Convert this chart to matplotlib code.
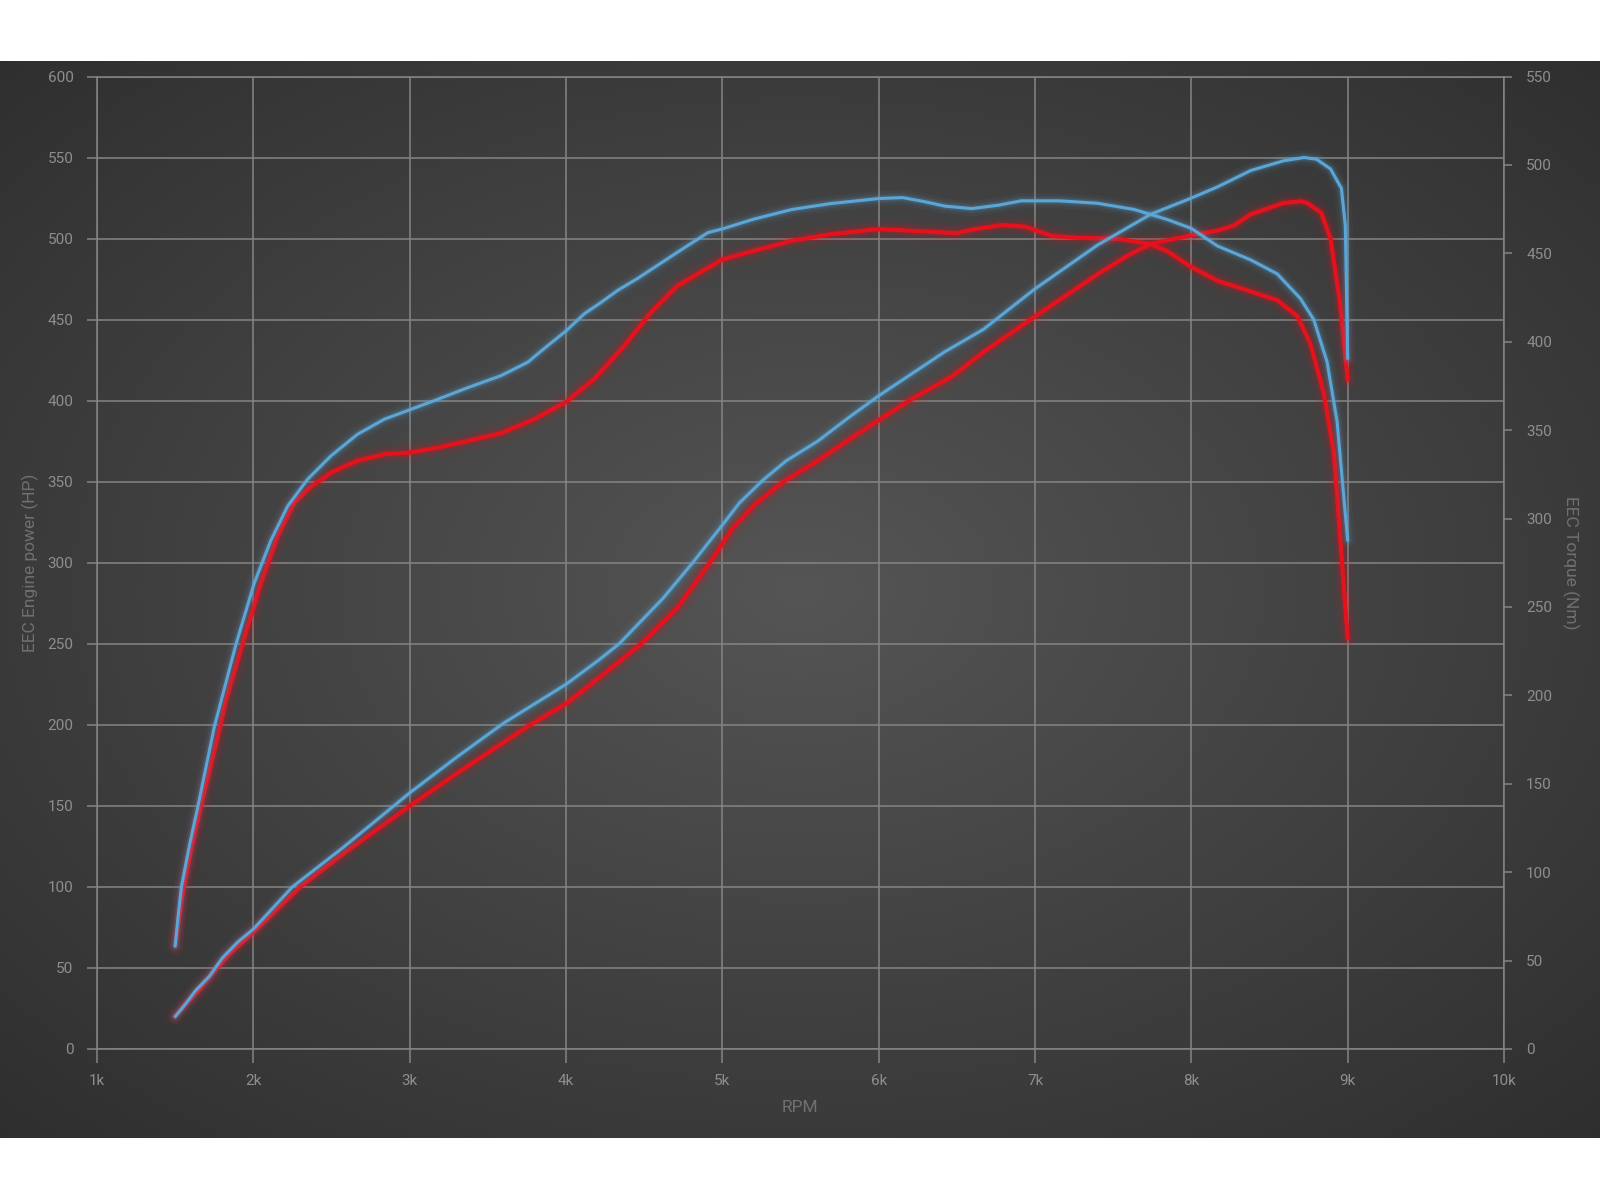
# dyno chart: power (left axis) and torque (right axis) vs RPM
import matplotlib.pyplot as plt
import numpy as np
from matplotlib.ticker import FuncFormatter

plt.rcParams['font.family'] = ['Roboto', 'DejaVu Sans']

# blue run - power (HP)
blue_power_rpm = [1500, 1560, 1630, 1720, 1800, 1900, 2000, 2250, 2570, 3000, 3300, 3600, 4000,
                  4210, 4340, 4530, 4620, 4810, 4990, 5110, 5260, 5410, 5610, 5800, 6000, 6420,
                  6670, 7000, 7400, 7740, 8000, 8170, 8380, 8590, 8720, 8800, 8890, 8960, 8985, 9000]
blue_power_hp = [20, 27, 36, 45, 56, 66, 74, 100, 124, 158, 180, 201, 225,
                 240, 250, 269, 278, 300, 322, 337, 351, 363, 375, 389, 403, 430,
                 444, 469, 496, 515, 525, 532, 542, 548, 550, 549, 543, 531, 508, 426]

# red run - power (HP)
red_power_rpm = [1500, 1560, 1640, 1750, 1850, 2000, 2300, 2570, 3000, 3300, 3770, 4000, 4250,
                 4480, 4710, 4920, 5070, 5220, 5390, 5610, 5840, 6000, 6210, 6470, 6670, 7000,
                 7400, 7600, 7750, 8000, 8170, 8270, 8380, 8590, 8700, 8740, 8830, 8890, 8950, 9000]
red_power_hp = [20, 27, 35, 48, 59, 72, 100, 120, 150, 170, 200, 213, 232,
                250, 272, 300, 322, 337, 350, 363, 378, 388, 401, 415, 430, 452,
                478, 490, 497, 502, 505, 508, 515, 522, 523, 522, 516, 500, 461, 413]

# blue run - torque (Nm)
blue_torque_rpm = [1500, 1520, 1540, 1590, 1646, 1751, 1890, 2006, 2113, 2220, 2347, 2497, 2667,
                   2838, 3000, 3158, 3371, 3584, 3755, 3883, 4000, 4117, 4222, 4330, 4467, 4544,
                   4711, 4907, 5000, 5200, 5445, 5690, 6000, 6154, 6300, 6423, 6594, 6765, 6912,
                   7156, 7401, 7634, 7847, 8000, 8166, 8379, 8549, 8698, 8783, 8868, 8932, 9000]
blue_torque_nm = [58.2, 76.0, 91.7, 114.6, 137.5, 182.4, 229.2, 263.5, 287.8, 307.1, 322.2, 335.5, 347.7,
                  356.2, 361.5, 366.7, 374.0, 380.8, 388.4, 397.8, 406.1, 415.8, 422.1, 429.0, 436.3, 440.8,
                  450.5, 461.7, 463.8, 469.3, 474.8, 478.1, 481.0, 481.5, 479.1, 476.7, 475.3, 477.2, 479.7,
                  479.7, 478.3, 474.8, 469.1, 464.1, 454.2, 446.3, 438.4, 424.4, 412.5, 388.7, 355.1, 287.7]

# red run - torque (Nm)
red_torque_rpm = [1500, 1550, 1600, 1666, 1788, 1825, 1932, 2049, 2156, 2262, 2369, 2497, 2667,
                  2838, 3000, 3179, 3371, 3584, 3797, 4000, 4181, 4373, 4544, 4711, 5000, 5200,
                  5445, 5690, 6000, 6178, 6496, 6619, 6790, 6936, 7108, 7279, 7523, 7740, 7841,
                  8000, 8166, 8379, 8549, 8677, 8762, 8847, 8911, 9000]
red_torque_nm = [58.2, 88.9, 111.8, 137.5, 182.4, 197.1, 229.2, 263.5, 290.0, 308.9, 318.1, 326.0, 332.8,
                 336.4, 337.3, 340.1, 343.9, 348.3, 356.2, 366.0, 379.0, 397.8, 416.7, 431.6, 446.6, 451.4,
                 457.1, 460.8, 463.7, 462.9, 461.4, 463.7, 466.0, 465.1, 459.8, 458.7, 458.3, 455.2, 451.4,
                 442.3, 434.5, 428.5, 423.5, 414.6, 398.8, 371.0, 337.3, 232.2]

x_ticks = list(range(1000, 10001, 1000))
hp_ticks = list(range(0, 601, 50))
nm_ticks = list(range(0, 551, 50))

grid_c = '#858585'
tick_c = '#8e8e8e'
label_c = '#707070'
blue = '#5ba6d6'
red = '#e3121c'

fig = plt.figure(figsize=(16, 12), dpi=100)
fig.patch.set_facecolor('white')

# dark band with radial gradient (ordered dither to hide banding)
bg = fig.add_axes([0, 62 / 1200, 1, 1077 / 1200])
yy, xx = np.mgrid[0:1077, 0:1600]
r = np.sqrt(((xx - 800) / 800.0) ** 2 + ((yy - 529) / 540.0) ** 2)
bayer = np.array([[0, 8, 2, 10], [12, 4, 14, 6], [3, 11, 1, 9], [15, 7, 13, 5]]) / 16.0 - 0.47
dither = bayer[yy % 4, xx % 4]
gray = np.clip((0x55 - 27 * r + dither) / 255.0, 0, 1)
bg.imshow(np.dstack([gray, gray, gray]), aspect='auto', interpolation='nearest')
bg.set_axis_off()

ax = fig.add_axes([97 / 1600, 1 - 1049 / 1200, 1407 / 1600, 972.5 / 1200])
ax.patch.set_alpha(0)
ax2 = ax.twinx()

ax.set_xlim(1000, 10000)
ax.set_ylim(0, 600)
ax2.set_ylim(0, 550)


def glow(x, y, color, lw, trans):
    for w, a in [(lw * 5, 0.05), (lw * 3.2, 0.09), (lw * 2, 0.16)]:
        ax.plot(x, y, color=color, lw=w, alpha=a, transform=trans,
                solid_capstyle='round', solid_joinstyle='round')
    ax.plot(x, y, color=color, lw=lw, transform=trans,
            solid_capstyle='round', solid_joinstyle='round')


glow(red_power_rpm, red_power_hp, red, 3.0, ax.transData)
glow(red_torque_rpm, red_torque_nm, red, 3.0, ax2.transData)
glow(blue_power_rpm, blue_power_hp, blue, 2.2, ax.transData)
glow(blue_torque_rpm, blue_torque_nm, blue, 2.2, ax2.transData)

ax.set_xticks(x_ticks)
ax.xaxis.set_major_formatter(FuncFormatter(lambda v, p: f'{int(v / 1000)}k'))
ax.set_yticks(hp_ticks)
ax2.set_yticks(nm_ticks)
ax.grid(True, color=grid_c, lw=1.1)
ax2.grid(False)

for s in ax.spines.values():
    s.set_color(grid_c)
    s.set_linewidth(1.1)
for s in ax2.spines.values():
    s.set_visible(False)

ax.tick_params(axis='y', length=7, width=1.1, color=grid_c, labelcolor=tick_c, labelsize=11, pad=10)
ax.tick_params(axis='x', length=10, width=1.1, color=grid_c, labelcolor=tick_c, labelsize=11, pad=8)
ax2.tick_params(axis='y', length=6, width=1.1, color=grid_c, labelcolor=tick_c, labelsize=11, pad=10)

fig.text(30 / 1600, 1 - 563 / 1200, 'EEC Engine power (HP)', rotation=90, ha='center', va='center',
         color=label_c, fontsize=12.5)
fig.text(1571 / 1600, 1 - 563 / 1200, 'EEC Torque (Nm)', rotation=270, ha='center', va='center',
         color=label_c, fontsize=12.5)
fig.text(800 / 1600, 1 - 1107 / 1200, 'RPM', ha='center', va='center', color=label_c, fontsize=12.5)

fig.savefig('out.png', dpi=100, facecolor='white')
